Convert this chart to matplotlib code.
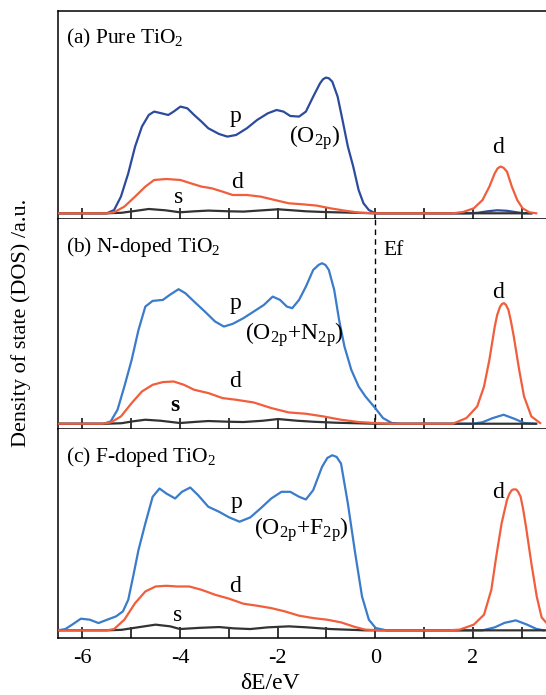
#!/usr/bin/env python3
"""
Partial density of states (s, p, d) for pure, N-doped and F-doped TiO2.
Three stacked panels sharing the energy axis, Fermi level at 0 eV.
"""

import matplotlib
matplotlib.use('Agg')
import matplotlib.pyplot as plt
from matplotlib.ticker import MultipleLocator

plt.rcParams['font.family'] = ['Liberation Serif', 'DejaVu Serif']
plt.rcParams['mathtext.fontset'] = 'custom'
plt.rcParams['mathtext.rm'] = 'Liberation Serif'
plt.rcParams['mathtext.it'] = 'Liberation Serif:italic'
plt.rcParams['mathtext.bf'] = 'Liberation Serif:bold'
plt.rcParams['axes.unicode_minus'] = False

# ---- (a) pure TiO2 ----
a_p_E = [-6.5, -5.5, -5.35, -5.21, -5.06, -4.92, -4.78, -4.64, -4.53, -4.38, -4.24, -4.13,
         -3.99, -3.85, -3.71, -3.56, -3.42, -3.20, -3.03, -2.85, -2.63, -2.42, -2.20, -2.02,
         -1.88, -1.74, -1.56, -1.42, -1.27, -1.13, -1.07, -1.01, -0.95, -0.88, -0.77, -0.67,
         -0.56, -0.45, -0.34, -0.24, -0.13, 0.0, 1.9, 2.1, 2.3, 2.5, 2.7, 2.9, 3.05, 3.2]
a_p = [0, 0, 0.33, 1.67, 4.0, 6.67, 8.67, 9.83, 10.17, 10.0, 9.83, 10.17,
       10.67, 10.5, 9.83, 9.17, 8.5, 7.93, 7.67, 7.83, 8.5, 9.33, 10.0, 10.33,
       10.17, 9.73, 9.67, 10.17, 11.67, 13.0, 13.4, 13.57, 13.5, 13.17, 11.67, 9.33,
       6.67, 4.67, 2.33, 1.0, 0.33, 0, 0, 0.05, 0.2, 0.3, 0.25, 0.1, 0, 0]

a_d_E = [-6.5, -5.5, -5.35, -5.14, -4.92, -4.71, -4.53, -4.28, -3.99, -3.78, -3.56, -3.35,
         -3.13, -2.92, -2.63, -2.35, -2.06, -1.77, -1.49, -1.20, -0.92, -0.63, -0.34, 0.0,
         1.59, 1.80, 2.02, 2.20, 2.34, 2.45, 2.51, 2.57, 2.63, 2.70, 2.80, 2.91, 3.02,
         3.16, 3.30]
a_d = [0, 0, 0.1, 0.67, 1.67, 2.67, 3.33, 3.43, 3.33, 3.0, 2.67, 2.5,
       2.17, 1.83, 1.83, 1.67, 1.33, 1.0, 0.9, 0.77, 0.5, 0.27, 0.07, 0,
       0, 0.13, 0.5, 1.33, 2.67, 4.0, 4.5, 4.67, 4.55, 4.17, 2.67, 1.33, 0.5,
       0.1, 0]

a_s_E = [-6.5, -5.5, -5.2, -4.9, -4.64, -4.3, -4.0, -3.7, -3.42, -3.0, -2.7, -2.3,
         -1.99, -1.7, -1.42, -1.0, -0.56, 0.0, 3.2]
a_s = [0, 0, 0.05, 0.25, 0.43, 0.3, 0.1, 0.2, 0.27, 0.2, 0.17, 0.3,
       0.4, 0.3, 0.2, 0.12, 0.07, 0, 0]

# ---- (b) N-doped TiO2 ----
b_p_E = [-6.5, -5.57, -5.42, -5.28, -5.14, -4.99, -4.85, -4.71, -4.56, -4.35, -4.21, -4.03,
         -3.89, -3.71, -3.49, -3.28, -3.10, -2.92, -2.70, -2.49, -2.28, -2.10, -1.95, -1.81,
         -1.70, -1.56, -1.42, -1.27, -1.16, -1.09, -1.02, -0.95, -0.84, -0.74, -0.63, -0.49,
         -0.34, -0.20, 0.0, 0.16, 0.34, 0.52, 2.0, 2.2, 2.4, 2.63, 2.85, 3.05, 3.28]
b_p = [0, 0, 0.23, 1.4, 3.73, 6.4, 9.4, 11.73, 12.3, 12.4, 12.9, 13.47,
       13.07, 12.23, 11.23, 10.23, 9.73, 10.0, 10.57, 11.23, 11.9, 12.73, 12.4, 11.73,
       11.57, 12.4, 13.73, 15.4, 15.9, 16.07, 15.9, 15.4, 13.4, 10.4, 7.73, 5.4,
       3.73, 2.73, 1.57, 0.57, 0.07, 0, 0, 0.15, 0.55, 0.9, 0.5, 0.08, 0]

b_d_E = [-6.5, -5.6, -5.42, -5.21, -4.99, -4.78, -4.56, -4.35, -4.13, -3.92, -3.71, -3.42,
         -3.13, -2.85, -2.49, -2.13, -1.77, -1.42, -1.06, -0.70, -0.34, 0.0, 0.3,
         1.59, 1.87, 2.09, 2.23, 2.34, 2.45, 2.50, 2.56, 2.60, 2.64, 2.68, 2.73, 2.78,
         2.84, 2.95, 3.05, 3.20, 3.38]
b_d = [0, 0, 0.13, 0.73, 2.07, 3.23, 3.9, 4.17, 4.23, 3.9, 3.4, 3.07,
       2.57, 2.4, 2.13, 1.57, 1.13, 1.0, 0.73, 0.4, 0.17, 0.07, 0,
       0, 0.57, 1.73, 3.73, 6.4, 9.73, 10.9, 11.73, 12.0, 12.07, 11.9, 11.4, 10.3,
       8.73, 5.4, 2.73, 0.73, 0.07]

b_s_E = [-6.5, -5.5, -5.2, -4.95, -4.71, -4.4, -4.0, -3.7, -3.42, -3.0, -2.7, -2.3,
         -1.99, -1.6, -1.27, -0.8, 0.0, 3.3]
b_s = [0, 0, 0.05, 0.25, 0.4, 0.3, 0.07, 0.18, 0.27, 0.2, 0.17, 0.3,
       0.47, 0.3, 0.2, 0.1, 0, 0]

# ---- (c) F-doped TiO2 ----
c_p_E = [-6.5, -6.35, -6.21, -6.03, -5.85, -5.67, -5.49, -5.31, -5.17, -5.06, -4.96, -4.85,
         -4.71, -4.56, -4.42, -4.28, -4.10, -3.96, -3.79, -3.63, -3.42, -3.20, -2.99, -2.78,
         -2.56, -2.35, -2.13, -1.92, -1.74, -1.56, -1.42, -1.27, -1.09, -0.98, -0.88, -0.79,
         -0.70, -0.56, -0.41, -0.27, -0.13, 0.01, 0.23, 2.2, 2.45, 2.65, 2.88, 3.1, 3.3, 3.45]
c_p = [0, 0.13, 0.57, 1.17, 1.07, 0.73, 1.07, 1.4, 1.9, 3.07, 5.4, 8.07,
       10.73, 13.4, 14.23, 13.73, 13.23, 13.9, 14.33, 13.57, 12.4, 11.9, 11.33, 10.9,
       11.33, 12.23, 13.23, 13.9, 13.9, 13.4, 13.13, 14.07, 16.4, 17.3, 17.57, 17.4,
       16.73, 12.73, 7.73, 3.4, 1.07, 0.23, 0, 0, 0.3, 0.75, 1.0, 0.6, 0.15, 0]

c_d_E = [-6.5, -5.5, -5.35, -5.14, -4.92, -4.71, -4.50, -4.28, -4.06, -3.81, -3.56, -3.28,
         -2.99, -2.70, -2.42, -2.13, -1.85, -1.56, -1.27, -0.99, -0.70, -0.41, -0.20, 0.1,
         1.5, 1.73, 2.02, 2.23, 2.38, 2.48, 2.59, 2.70, 2.75, 2.80, 2.84, 2.89, 2.93, 2.98,
         3.03, 3.09, 3.20, 3.31, 3.41, 3.50]
c_d = [0, 0, 0.13, 1.07, 2.73, 3.9, 4.4, 4.47, 4.4, 4.4, 4.07, 3.57,
       3.17, 2.67, 2.47, 2.23, 1.9, 1.47, 1.23, 1.07, 0.8, 0.33, 0.07, 0,
       0, 0.07, 0.57, 1.57, 4.07, 7.4, 10.73, 13.07, 13.7, 14.07, 14.15, 14.13, 13.9, 13.4,
       12.2, 10.4, 6.73, 3.4, 1.3, 0.8]

c_s_E = [-6.5, -5.5, -5.2, -4.8, -4.5, -4.2, -4.0, -3.6, -3.2, -2.9, -2.56, -2.2,
         -1.77, -1.4, -0.92, -0.2, 3.5]
c_s = [0, 0, 0.05, 0.35, 0.57, 0.4, 0.13, 0.25, 0.33, 0.2, 0.13, 0.3,
       0.4, 0.3, 0.13, 0, 0]

titles = [r'(a) Pure TiO$_2$', r'(b) N-doped TiO$_2$', r'(c) F-doped TiO$_2$']
p_labels = [r'(O$_{\mathrm{2p}}$)', r'(O$_{\mathrm{2p}}$+N$_{\mathrm{2p}}$)',
            r'(O$_{\mathrm{2p}}$+F$_{\mathrm{2p}}$)']
x_ticks = [-6, -4, -2, 0, 2]

BLUE_DARK = '#2d4b9e'
BLUE = '#3a7bcb'
RED = '#f15e3c'
BLACK = '#333333'
FS = 15.5   # panel titles, axis labels
LFS = 17    # curve annotations

fig = plt.figure(figsize=(5.46, 6.95), dpi=100)

# panel rectangles: [left, bottom, width, height] in figure fraction
rects = [
    [0.1062, 0.6849, 0.8938, 0.2993],
    [0.1062, 0.3827, 0.8938, 0.3022],
    [0.1062, 0.0820, 0.8938, 0.3007],
]
ylims = [(-0.57, 20.23), (-0.53, 20.5), (-0.77, 20.2)]

curves = [
    (a_p_E, a_p, a_d_E, a_d, a_s_E, a_s),
    (b_p_E, b_p, b_d_E, b_d, b_s_E, b_s),
    (c_p_E, c_p, c_d_E, c_d, c_s_E, c_s),
]
blues = [BLUE_DARK, BLUE, BLUE]

# label positions (E, DOS) per panel
title_y = [17.5, 17.7, 17.4]
p_pos = [(-2.87, 9.7), (-2.87, 12.0), (-2.84, 12.8)]
plab_pos = [(-1.25, 7.6), (-1.65, 8.9), (-1.51, 10.1)]
d_pos = [(-2.84, 3.1), (-2.87, 4.2), (-2.87, 4.4)]
s_pos = [(-4.02, 1.6), (-4.1, 1.8), (-4.04, 1.5)]
dcb_pos = [(2.51, 6.6), (2.51, 13.1), (2.51, 13.8)]

axes = []
for i in range(3):
    ax = fig.add_axes(rects[i])
    axes.append(ax)
    pE, p, dE, d, sE, s = curves[i]
    ax.plot(pE, p, color=blues[i], lw=1.6, zorder=2)
    ax.plot(sE, s, color=BLACK, lw=1.6, zorder=3)
    ax.plot(dE, d, color=RED, lw=1.6, zorder=4)

    ax.set_xlim(-6.5, 3.5)
    ax.set_ylim(*ylims[i])
    ax.set_yticks([])
    ax.xaxis.set_major_locator(MultipleLocator(2))
    ax.xaxis.set_minor_locator(MultipleLocator(1))
    ax.tick_params(axis='x', which='both', direction='in', length=8, width=1.1,
                   top=False, bottom=True)
    ax.spines['right'].set_visible(False)
    for sp in ('left', 'bottom', 'top'):
        ax.spines[sp].set_linewidth(1.1)
    if i > 0:
        ax.spines['top'].set_visible(False)
    if i < 2:
        ax.tick_params(axis='x', labelbottom=False)

    ax.text(-6.33, title_y[i], titles[i], fontsize=FS, ha='left', va='center')
    ax.text(*p_pos[i], 'p', fontsize=LFS, ha='center', va='center')
    ax.text(*plab_pos[i], p_labels[i], fontsize=LFS, ha='center', va='center')
    ax.text(*d_pos[i], 'd', fontsize=LFS, ha='center', va='center')
    ax.text(*s_pos[i], 's', fontsize=LFS, ha='center', va='center',
            fontweight='bold' if i == 1 else 'normal')
    ax.text(*dcb_pos[i], 'd', fontsize=LFS, ha='center', va='center')

# Fermi level marker in the N-doped panel
axes[1].axvline(0, color='black', lw=1.0, ls=(0, (4, 3)), zorder=1)
axes[1].text(0.17, 17.3, 'Ef', fontsize=FS, ha='left', va='center')

axes[2].set_xticks(x_ticks)
axes[2].set_xticklabels([str(t) for t in x_ticks], fontsize=16)
axes[2].tick_params(axis='x', which='major', pad=8)

fig.text(0.495, 0.017, r'δE/eV', fontsize=17, ha='center', va='center')
fig.text(0.038, 0.535, 'Density of state (DOS) /a.u.', fontsize=16, rotation=90,
         ha='center', va='center')

fig.savefig('out.png', dpi=100)
print("saved out.png")
